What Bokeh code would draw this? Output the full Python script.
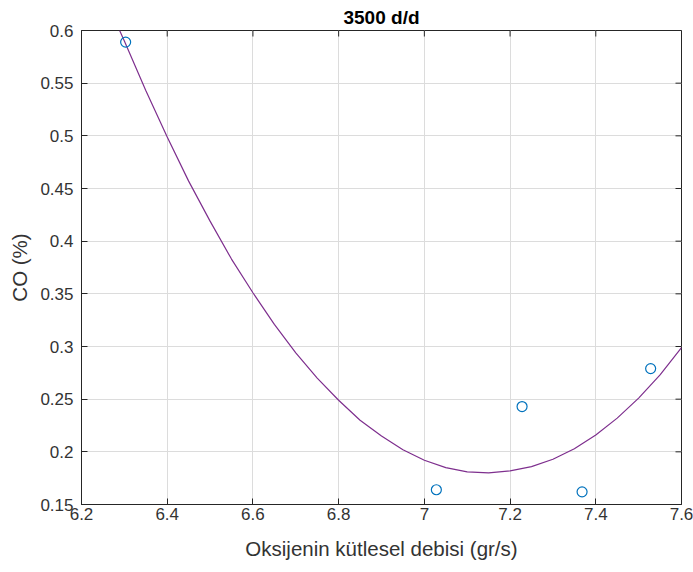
import math
from bokeh.plotting import figure
from bokeh.models import FixedTicker, Range1d
from bokeh.embed import file_html
from bokeh.resources import INLINE

# Measured data points (circles)
data_x = [6.303, 7.028, 7.228, 7.368, 7.528]
data_y = [0.589, 0.164, 0.243, 0.162, 0.279]

# Fitted curve
curve_x = [6.289, 6.30, 6.35, 6.40, 6.45, 6.50, 6.55, 6.60, 6.65, 6.70, 6.75, 6.80,
           6.85, 6.90, 6.95, 7.00, 7.05, 7.10, 7.15, 7.20, 7.25, 7.30, 7.35,
           7.40, 7.45, 7.50, 7.55, 7.60]
curve_y = [0.600, 0.590, 0.543, 0.499, 0.457, 0.419, 0.383, 0.351, 0.321, 0.294, 0.270, 0.249,
           0.230, 0.215, 0.202, 0.192, 0.185, 0.181, 0.180, 0.182, 0.186, 0.193, 0.203,
           0.216, 0.232, 0.251, 0.273, 0.299]

x_ticks = [6.2, 6.4, 6.6, 6.8, 7.0, 7.2, 7.4, 7.6]
x_tick_labels = ["6.2", "6.4", "6.6", "6.8", "7", "7.2", "7.4", "7.6"]
y_ticks = [0.15, 0.2, 0.25, 0.3, 0.35, 0.4, 0.45, 0.5, 0.55, 0.6]
y_tick_labels = ["0.15", "0.2", "0.25", "0.3", "0.35", "0.4", "0.45", "0.5", "0.55", "0.6"]

title_text = "3500 d/d"
x_label = "Oksijenin kütlesel debisi (gr/s)"
y_label = "CO (%)"

FONT = "Liberation Sans"
AX = "#262626"

xr = Range1d(6.2, 7.6)
yr = Range1d(0.15, 0.6)

p = figure(width=693, height=572, output_backend="svg", toolbar_location=None,
           x_range=xr, y_range=yr,
           min_border_left=81, min_border_right=12, min_border_top=30, min_border_bottom=68,
           x_axis_label=x_label, y_axis_label=y_label)

p.title.text = title_text
p.title.align = "center"
p.title.text_font = FONT
p.title.text_font_size = "19px"
p.title.text_font_style = "bold"
p.title.text_color = "#000000"
p.title.standoff = 5

p.background_fill_color = "white"
p.border_fill_color = "white"
p.outline_line_color = AX
p.outline_line_width = 1
p.outline_line_alpha = 1

for ax, ticks, labels in ((p.xaxis[0], x_ticks, x_tick_labels), (p.yaxis[0], y_ticks, y_tick_labels)):
    ax.ticker = FixedTicker(ticks=ticks)
    ax.major_label_overrides = {t: l for t, l in zip(ticks, labels)}
    ax.minor_tick_line_color = None
    ax.major_tick_in = 6
    ax.major_tick_out = 0
    ax.axis_line_color = AX
    ax.major_tick_line_color = AX
    ax.major_label_text_font = FONT
    ax.major_label_text_font_size = "17px"
    ax.major_label_text_color = "#333333"
    ax.axis_label_text_font = FONT
    ax.axis_label_text_font_size = "20.5px"
    ax.axis_label_text_font_style = "normal"
    ax.axis_label_text_color = "#333333"

p.xaxis[0].major_label_standoff = 3
p.xaxis[0].axis_label_standoff = 14
p.yaxis[0].major_label_standoff = 8
p.yaxis[0].axis_label_standoff = 6

p.xgrid.ticker = FixedTicker(ticks=x_ticks)
p.ygrid.ticker = FixedTicker(ticks=y_ticks)
for g in (p.xgrid[0], p.ygrid[0]):
    g.grid_line_color = "#dcdcdc"
    g.grid_line_width = 1

# box tick marks on the top and right edges (inward, 6 px)
p.ray(x=x_ticks, y=[yr.end] * len(x_ticks), length=6, length_units="screen",
      angle=-math.pi / 2, line_color=AX, line_width=1)
p.ray(x=[xr.end] * len(y_ticks), y=y_ticks, length=6, length_units="screen",
      angle=math.pi, line_color=AX, line_width=1)

p.line(curve_x, curve_y, line_color="#7E2F8E", line_width=1.2)
p.scatter(data_x, data_y, marker="circle", size=10, fill_color=None,
          line_color="#0072BD", line_width=1.2)

open("out.html", "w").write(file_html(p, INLINE))
